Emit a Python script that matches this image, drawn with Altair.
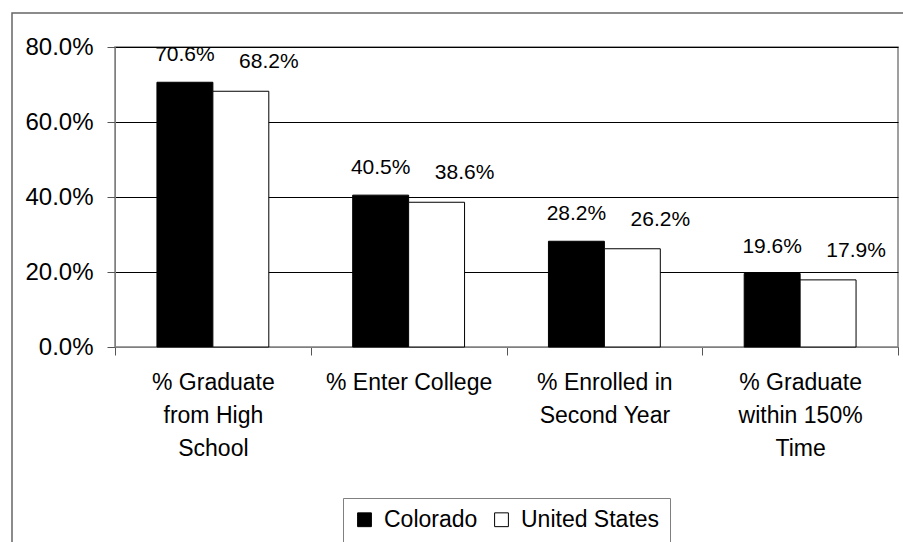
import altair as alt
import pandas as pd

# Stages of the education pipeline (line breaks mark axis-label wrapping)
categories = [
    "% Graduate\nfrom High\nSchool",
    "% Enter College",
    "% Enrolled in\nSecond Year",
    "% Graduate\nwithin 150%\nTime",
]
regions = ["Colorado", "United States"]
colorado = [70.6, 40.5, 28.2, 19.6]
united_states = [68.2, 38.6, 26.2, 17.9]
y_ticks = [0, 20, 40, 60, 80]

rows = []
for cat, co, us in zip(categories, colorado, united_states):
    rows.append({"stage": cat, "region": regions[0], "pct": co})
    rows.append({"stage": cat, "region": regions[1], "pct": us})
df = pd.DataFrame(rows)

FONT = "Liberation Sans"
W, H = 783, 300

x_enc = alt.X(
    "stage:N",
    sort=categories,
    scale=alt.Scale(paddingInner=0, paddingOuter=0),
    axis=alt.Axis(
        title=None,
        labelAngle=0,
        tickBand="extent",
        tickSize=8,
        tickColor="#555555",
        domainColor="#808080",
        labelPadding=16,
        labelFontSize=23,
        labelFont=FONT,
        labelColor="black",
        labelLineHeight=33,
        labelLimit=400,
        labelBaseline="top",
        labelExpr="split(datum.label, '\\n')",
        grid=False,
    ),
)
xoff_enc = alt.XOffset(
    "region:N",
    sort=regions,
    scale=alt.Scale(paddingInner=0, paddingOuter=0.75),
)
y_enc = alt.Y(
    "pct:Q",
    scale=alt.Scale(domain=[0, 80], nice=False),
    axis=alt.Axis(
        title=None,
        values=y_ticks,
        labelExpr="format(datum.value, '.1f') + '%'",
        tickSize=8,
        tickColor="#555555",
        domainColor="#808080",
        labelPadding=14,
        labelFontSize=24,
        labelFont=FONT,
        labelColor="black",
        gridColor="black",
        gridWidth=1,
    ),
)

bars = alt.Chart(df).mark_bar(stroke="black", strokeWidth=1).encode(
    x=x_enc,
    xOffset=xoff_enc,
    y=y_enc,
    fill=alt.Fill(
        "region:N",
        sort=regions,
        scale=alt.Scale(domain=regions, range=["black", "white"]),
        legend=alt.Legend(
            orient="none",
            legendX=228,
            legendY=451,
            direction="horizontal",
            title=None,
            symbolType="square",
            symbolSize=190,
            symbolStrokeColor="black",
            symbolStrokeWidth=1,
            symbolOpacity=1,
            labelFontSize=23,
            labelFont=FONT,
            labelColor="black",
            labelOffset=8,
            labelLimit=400,
            columnPadding=12,
            padding=10,
            strokeColor="#808080",
            fillColor="white",
        ),
    ),
)


def value_labels(region, dx, dy):
    """Percentage labels above one region's bars."""
    return alt.Chart(df).transform_filter(
        alt.datum.region == region
    ).transform_calculate(
        txt="format(datum.pct, '.1f') + '%'"
    ).mark_text(
        font=FONT, fontSize=21, color="black", baseline="middle", dx=dx, dy=dy
    ).encode(
        x=alt.X("stage:N", sort=categories),
        xOffset=alt.XOffset("region:N", sort=regions),
        y=alt.Y("pct:Q"),
        text="txt:N",
    )


labels_co = value_labels(regions[0], 0, -27)
labels_us = value_labels(regions[1], 28, -29)

# Outer frame around the whole chart
frame = alt.Chart(alt.Data(values=[{}])).mark_rect(
    filled=False, stroke="#666666", strokeWidth=1.5
).encode(
    x=alt.value(-103),
    x2=alt.value(W + 40),
    y=alt.value(-34),
    y2=alt.value(H + 240),
)

chart = alt.layer(frame, bars, labels_co, labels_us).properties(
    width=W,
    height=H,
    padding={"left": 115, "top": 47, "right": 5, "bottom": 195},
    autosize="none",
    background="white",
).configure_view(
    stroke="#808080", strokeWidth=1.5
)

chart.save("out.html", embed_options={"renderer": "svg", "actions": False})
